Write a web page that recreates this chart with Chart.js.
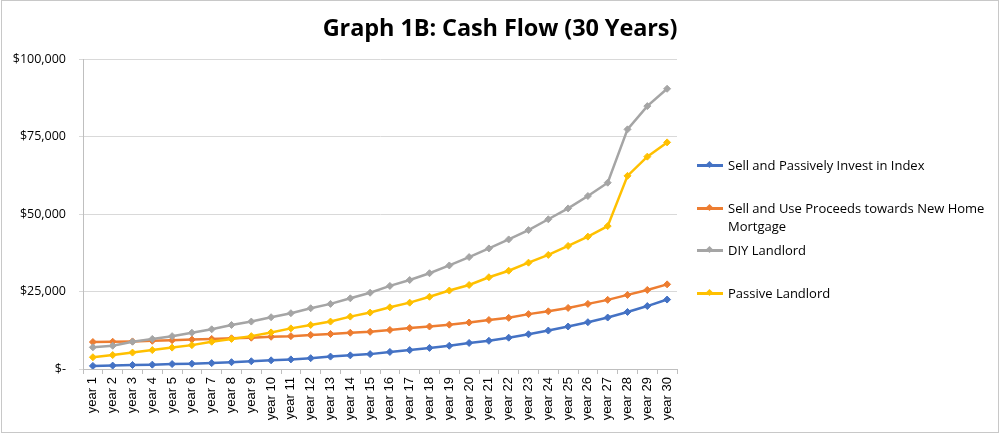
<!DOCTYPE html>
<html>
<head>
<meta charset="utf-8">
<script src="https://cdn.jsdelivr.net/npm/chart.js@4.4.1/dist/chart.umd.min.js"></script>
<style>
    html, body { margin: 0; padding: 0; background: #fff; }
    #wrap { position: relative; width: 1000px; height: 434px; overflow: hidden; }
    #frame { position: absolute; left: 1px; top: 0; width: 996px; height: 431px; border: 1px solid #c8c8c8; pointer-events: none; }
    #title { position: absolute; left: 0; top: 11px; width: 1000px; text-align: center; font-family: 'Open Sans', sans-serif; font-weight: 700; font-size: 23.5px; color: #000; letter-spacing: -0.1px; }
    #legend { position: absolute; left: 697px; top: 0; font-family: 'Open Sans', sans-serif; font-size: 13px; color: #000; }
    .item { position: absolute; left: 0; width: 295px; }
    .swatch { position: absolute; left: 0; width: 26px; height: 3px; }
    .swatch i { position: absolute; left: 10px; top: -2.5px; width: 5px; height: 5px; transform: rotate(45deg); }
    .txt { position: absolute; left: 31px; width: 268px; line-height: 18px; }
</style>
</head>
<body>
<div id="wrap">
    <canvas id="cashChart" width="1000" height="434"></canvas>
    <div id="title">Graph 1B: Cash Flow (30 Years)</div>
    <div id="legend"></div>
    <div id="frame"></div>
</div>
<script>
    const years = ['year 1', 'year 2', 'year 3', 'year 4', 'year 5', 'year 6', 'year 7', 'year 8', 'year 9', 'year 10',
        'year 11', 'year 12', 'year 13', 'year 14', 'year 15', 'year 16', 'year 17', 'year 18', 'year 19', 'year 20',
        'year 21', 'year 22', 'year 23', 'year 24', 'year 25', 'year 26', 'year 27', 'year 28', 'year 29', 'year 30'];

    const seriesNames = ['Sell and Passively Invest in Index', 'Sell and Use Proceeds towards New Home Mortgage', 'DIY Landlord', 'Passive Landlord'];

    const investIndex = [1000, 1100, 1300, 1400, 1600, 1700, 1900, 2200, 2500, 2800,
        3100, 3500, 4000, 4400, 4800, 5500, 6100, 6800, 7500, 8400,
        9100, 10100, 11200, 12400, 13700, 15100, 16600, 18400, 20300, 22400];
    const newHomeMortgage = [8700, 8800, 8900, 9100, 9300, 9500, 9700, 9900, 10100, 10400,
        10600, 11000, 11300, 11700, 12000, 12600, 13200, 13700, 14300, 15000,
        15800, 16500, 17700, 18600, 19700, 21000, 22300, 23900, 25500, 27300];
    const diyLandlord = [7000, 7500, 8800, 9700, 10600, 11700, 12800, 14200, 15300, 16700,
        18000, 19600, 21000, 22800, 24600, 26800, 28700, 30900, 33400, 36100,
        38900, 41800, 44800, 48300, 51800, 55800, 60100, 77300, 84800, 90400];
    const passiveLandlord = [3800, 4500, 5300, 6100, 6900, 7700, 8800, 9700, 10600, 11800,
        13100, 14200, 15300, 16900, 18200, 19900, 21400, 23300, 25300, 27100,
        29600, 31700, 34300, 36800, 39700, 42700, 46100, 62300, 68500, 73100];

    const yTicks = [0, 25000, 50000, 75000, 100000];

    const colors = ['#4472C4', '#ED7D31', '#A5A5A5', '#FFC000'];
    const allSeries = [investIndex, newHomeMortgage, diyLandlord, passiveLandlord];

    const datasets = allSeries.map((values, i) => ({
        label: seriesNames[i],
        data: values,
        borderColor: colors[i],
        backgroundColor: colors[i],
        borderWidth: 2.5,
        pointStyle: 'rectRot',
        pointRadius: 3.5,
        pointBorderWidth: 1,
        tension: 0,
        order: allSeries.length - i
    }));

    // legend positions (y of the first text line center)
    const legendY = [165, 208, 250, 293];
    const legend = document.getElementById('legend');
    datasets.forEach((ds, i) => {
        const item = document.createElement('div');
        item.className = 'item';
        item.style.top = (legendY[i] - 9) + 'px';
        item.innerHTML = `<div class="swatch" style="top:8px;background:${ds.borderColor}"><i style="background:${ds.borderColor}"></i></div>` +
            `<div class="txt">${ds.label}</div>`;
        legend.appendChild(item);
    });

    const ctx = document.getElementById('cashChart').getContext('2d');
    new Chart(ctx, {
        type: 'line',
        data: { labels: years, datasets: datasets },
        options: {
            responsive: false,
            animation: false,
            layout: { padding: { left: 0, right: 323, top: 59, bottom: 0 } },
            plugins: { legend: { display: false }, title: { display: false }, tooltip: { enabled: false } },
            scales: {
                x: {
                    offset: true,
                    grid: { offset: true, drawOnChartArea: false, drawTicks: true, tickLength: 5, color: '#bfbfbf' },
                    border: { display: true, color: '#bfbfbf' },
                    ticks: {
                        autoSkip: false, minRotation: 90, maxRotation: 90, padding: 3,
                        color: '#000', font: { family: 'Liberation Sans, Arial, sans-serif', size: 13 }
                    },
                    afterFit: (scale) => { scale.height = 65; }
                },
                y: {
                    min: 0,
                    max: 100000,
                    afterBuildTicks: (scale) => { scale.ticks = yTicks.map(v => ({ value: v })); },
                    grid: { color: '#d9d9d9', tickLength: 4, drawTicks: true },
                    border: { display: true, color: '#bfbfbf' },
                    ticks: {
                        padding: 13,
                        color: '#000',
                        font: { family: 'Open Sans, sans-serif', size: 12.5 },
                        callback: (v) => v === 0 ? '$-' : '$' + v.toLocaleString('en-US')
                    },
                    afterFit: (scale) => { scale.width = 83; }
                }
            }
        }
    });
</script>
</body>
</html>
